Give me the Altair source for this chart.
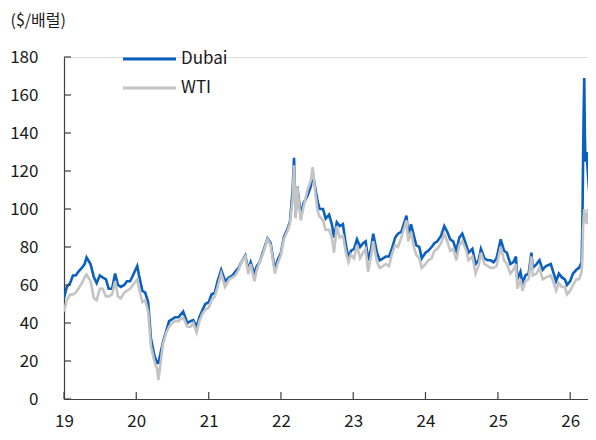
import altair as alt
import pandas as pd

# ---------------- data ----------------
dates = [
    "2019/01/01", "2019/01/15", "2019/02/01", "2019/02/15", "2019/03/01", "2019/03/15",
    "2019/04/01", "2019/04/15", "2019/04/25", "2019/05/15", "2019/06/01", "2019/06/15",
    "2019/07/01", "2019/07/15", "2019/08/01", "2019/08/15", "2019/09/01", "2019/09/16",
    "2019/10/01", "2019/10/15", "2019/11/01", "2019/11/15", "2019/12/01", "2019/12/15",
    "2020/01/06", "2020/01/15", "2020/02/01", "2020/02/15", "2020/03/01", "2020/03/15",
    "2020/04/01", "2020/04/15", "2020/04/22", "2020/05/15", "2020/06/01", "2020/06/15",
    "2020/07/01", "2020/07/15", "2020/08/01", "2020/08/25", "2020/09/15", "2020/10/01",
    "2020/10/15", "2020/11/01", "2020/11/15", "2020/12/01", "2020/12/15", "2021/01/01",
    "2021/01/15", "2021/02/01", "2021/02/15", "2021/03/05", "2021/03/25", "2021/04/15",
    "2021/05/01", "2021/05/15", "2021/06/01", "2021/06/15", "2021/07/05", "2021/07/20",
    "2021/08/01", "2021/08/20", "2021/09/01", "2021/09/15", "2021/10/01", "2021/10/25",
    "2021/11/10", "2021/12/01", "2021/12/15", "2022/01/01", "2022/01/15", "2022/02/01",
    "2022/02/15", "2022/03/01", "2022/03/08", "2022/03/16", "2022/03/24", "2022/04/11",
    "2022/04/25", "2022/05/15", "2022/06/01", "2022/06/10", "2022/06/25", "2022/07/05",
    "2022/07/15", "2022/08/01", "2022/08/15", "2022/09/01", "2022/09/15", "2022/09/26",
    "2022/10/10", "2022/10/25", "2022/11/10", "2022/11/25", "2022/12/08", "2022/12/20",
    "2023/01/05", "2023/01/20", "2023/02/05", "2023/02/20", "2023/03/05", "2023/03/17",
    "2023/04/01", "2023/04/12", "2023/05/01", "2023/05/15", "2023/06/01", "2023/06/15",
    "2023/07/01", "2023/07/15", "2023/08/01", "2023/08/15", "2023/09/01", "2023/09/27",
    "2023/10/06", "2023/10/20", "2023/11/01", "2023/11/15", "2023/12/01", "2023/12/13",
    "2024/01/01", "2024/01/15", "2024/02/01", "2024/02/15", "2024/03/01", "2024/03/20",
    "2024/04/05", "2024/04/20", "2024/05/05", "2024/05/20", "2024/06/05", "2024/06/20",
    "2024/07/05", "2024/07/25", "2024/08/05", "2024/08/25", "2024/09/10", "2024/09/25",
    "2024/10/07", "2024/10/25", "2024/11/10", "2024/11/25", "2024/12/10", "2024/12/25",
    "2025/01/15", "2025/02/01", "2025/02/15", "2025/03/05", "2025/03/20", "2025/04/02",
    "2025/04/09", "2025/04/25", "2025/05/05", "2025/05/20", "2025/06/05", "2025/06/19",
    "2025/06/26", "2025/07/15", "2025/07/30", "2025/08/15", "2025/09/01", "2025/09/25",
    "2025/10/10", "2025/10/22", "2025/11/05", "2025/11/20", "2025/12/05", "2025/12/16",
    "2026/01/01", "2026/01/15", "2026/02/01", "2026/02/15", "2026/02/28", "2026/03/04",
    "2026/03/07", "2026/03/10", "2026/03/13", "2026/03/16", "2026/03/19", "2026/03/25",
    "2026/04/01", "2026/04/08", "2026/04/15", "2026/04/22", "2026/04/30", "2026/05/05",
]

dubai = [
    53, 59, 61, 65, 65, 67,
    69, 71, 74.5, 71, 64, 61,
    65, 64, 63, 58, 58, 66,
    60, 59, 60, 62, 62, 65,
    70, 65, 57, 56, 51, 32,
    23, 19, 19, 30, 36, 41,
    42, 43, 43, 46, 40, 41,
    41.5, 38, 43, 47, 50, 51,
    55, 56, 62, 68, 62, 64,
    65, 67, 69, 72, 75.5, 68,
    72, 66, 70, 72, 77, 84.5,
    82, 68, 73, 77, 85, 89,
    93, 110, 127, 96, 112, 97,
    103, 107, 112, 119, 110, 104,
    100, 100, 95, 97, 92, 85,
    93, 91, 92, 81, 74, 78,
    79, 84, 80, 82, 83, 73,
    79, 87, 77, 73, 74, 75,
    75, 79, 85, 87, 88, 96.5,
    86, 92, 87, 81, 80, 74,
    77, 78, 80, 82, 83, 86,
    91, 88, 84, 83, 78, 85,
    87, 81, 77, 79, 71, 73,
    79, 74, 73, 73, 72, 74,
    84, 78, 77, 71, 72, 75,
    63, 67, 61, 65, 66, 77,
    69, 71, 73, 68, 70, 71,
    66, 62, 66, 64, 63, 60,
    62, 66, 68, 69, 72, 95,
    125, 150, 169, 140, 125, 130,
    118, 108, 100, 113, 105, 108,
]

wti = [
    46, 52, 55, 55, 56, 58,
    61, 64, 65.5, 62, 53, 52,
    58, 58, 54, 54, 55, 62,
    54, 53, 56, 57, 58, 60,
    63, 58, 51, 52, 46, 28,
    20, 16, 10, 29, 35, 38,
    40, 41, 41, 43, 38, 38,
    40, 35, 41, 45, 47, 48,
    52, 54, 59, 66, 59, 63,
    64, 65, 68, 72, 75, 66,
    71, 62, 68, 72, 76, 84,
    81, 66, 71, 76, 84, 88,
    92, 105, 123, 95, 112, 94,
    101, 110, 115, 122, 107, 99,
    96, 94, 89, 89, 85, 77,
    91, 85, 86, 77, 72, 76,
    74, 81, 74, 77, 79, 67,
    75, 83, 72, 69, 70, 71,
    70, 76, 81, 80, 85, 94,
    83, 88, 81, 76, 74, 69,
    71, 73, 74, 78, 79, 82,
    87, 83, 78, 79, 73, 81,
    83, 78, 73, 75, 66, 70,
    77, 71, 70, 69, 69, 70,
    80, 73, 71, 66, 68, 71,
    58, 63, 57, 62, 63, 75,
    65, 66, 69, 63, 64, 65,
    61, 57, 61, 59, 59, 55,
    57, 60, 63, 63, 67, 75,
    90, 95, 100, 93, 98, 92,
    100, 95, 85, 100, 96, 98,
]

series_names = ["Dubai", "WTI"]
y_tick_values = [0, 20, 40, 60, 80, 100, 120, 140, 160, 180]
year_ticks = ["2019/01/01", "2020/01/01", "2021/01/01", "2022/01/01",
              "2023/01/01", "2024/01/01", "2025/01/01", "2026/01/01"]
y_title = "($/배럴)"

# ---------------- styling ----------------
BLUE = "#0A5FBF"
GRAY = "#C4C4C4"
AXIS = "#404040"
TXT = "#1a1a1a"
FONT = "Noto Sans CJK KR"
W, H = 524, 342

rows = []
for name, vals in zip(series_names, [dubai, wti]):
    for d, v in zip(dates, vals):
        rows.append({"date": d, "series": name, "price": v})
df = pd.DataFrame(rows)

x_scale = alt.Scale(domain=[alt.DateTime(year=2019, month=1, date=1),
                            alt.DateTime(year=2026, month=4, date=1)])
y_scale = alt.Scale(domain=[0, 180], nice=False, zero=True)

x_axis = alt.Axis(values=[alt.DateTime(year=int(s[:4]), month=1, date=1) for s in year_ticks],
                  format="%y", ticks=False, grid=False, title=None, labelFlush=False,
                  labelPadding=14, labelFontSize=17, labelFont=FONT, labelColor=TXT,
                  domainColor=AXIS, domainWidth=1.2)
y_axis = alt.Axis(values=y_tick_values, ticks=False, grid=False, labelFlush=False,
                  labelPadding=26, labelFontSize=17, labelFont=FONT, labelColor=TXT,
                  domainColor=AXIS, domainWidth=1.2,
                  title=y_title, titleAngle=0, titleAlign="left", titleBaseline="middle",
                  titleX=-54, titleY=-37, titleFontSize=16, titleFont=FONT,
                  titleFontWeight="normal", titleColor=TXT)

X = alt.X("date:T", scale=x_scale, axis=x_axis)
Y = alt.Y("price:Q", scale=y_scale, axis=y_axis)

base = alt.Chart(df)
line_d = base.transform_filter(alt.datum.series == "Dubai").mark_line(
    color=BLUE, strokeWidth=2.6, clip=True).encode(x=X, y=Y)
line_w = base.transform_filter(alt.datum.series == "WTI").mark_line(
    color=GRAY, strokeWidth=2.6, clip=True).encode(x=X, y=Y)

ytick = alt.Chart(pd.DataFrame({"price": y_tick_values})).mark_rule(
    color=AXIS, strokeWidth=1.2).encode(y=Y, x=alt.value(0), x2=alt.value(7))
xtick = alt.Chart(pd.DataFrame({"date": year_ticks})).mark_rule(
    color=AXIS, strokeWidth=1.2).encode(x=X, y=alt.value(H), y2=alt.value(H - 7))

one = pd.DataFrame({"k": [0]})
leg = []
for name, col, yy in zip(series_names, [BLUE, GRAY], [2, 31]):
    leg.append(alt.Chart(one).mark_rule(color=col, strokeWidth=3).encode(
        x=alt.value(59), x2=alt.value(112), y=alt.value(yy)))
    leg.append(alt.Chart(one).mark_text(align="left", baseline="middle", fontSize=17,
                                        font=FONT, color=TXT).encode(
        x=alt.value(117), y=alt.value(yy), text=alt.value(name)))

chart = alt.layer(line_d, line_w, ytick, xtick, *leg).properties(
    width=W, height=H,
    autosize=alt.AutoSizeParams(type="none"),
    padding={"left": 56, "top": 49, "right": 0, "bottom": 33},
).configure_view(stroke="transparent", strokeWidth=0).configure(background="white")

chart.save("out.html", embed_options={"renderer": "svg", "actions": False})
